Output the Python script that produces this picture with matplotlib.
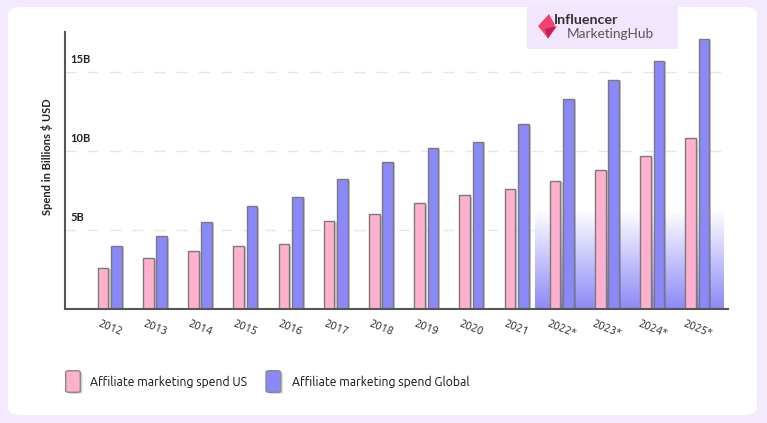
#!/usr/bin/env python3
#
# Affiliate marketing spend, US vs Global (2012 - 2025*)
#
import matplotlib
matplotlib.use('Agg')
import matplotlib.pyplot as plt
import numpy as np
from matplotlib.patches import FancyBboxPatch, Rectangle, Polygon
from matplotlib import patheffects
from matplotlib.colors import LinearSegmentedColormap

# Data (billions USD)
years = ['2012', '2013', '2014', '2015', '2016', '2017', '2018',
         '2019', '2020', '2021', '2022*', '2023*', '2024*', '2025*']
spend_us = [2.6, 3.2, 3.7, 4.0, 4.1, 5.6, 6.0,
            6.7, 7.2, 7.6, 8.1, 8.8, 9.7, 10.8]
spend_global = [4.0, 4.6, 5.5, 6.5, 7.1, 8.2, 9.3,
                10.2, 10.6, 11.7, 13.3, 14.5, 15.7, 17.1]
yticks = [5, 10, 15]
ytick_labels = ['5B', '10B', '15B']
labels = ['Affiliate marketing spend US', 'Affiliate marketing spend Global']

c_us = '#FFB1CE'
c_gl = '#8B88FA'
c_edge = '#7a7a7a'
c_bg = '#F3EBFD'
font = ['Ubuntu', 'Lato']
font_b = 'Lato'

W, H = 767, 423
fig = plt.figure(figsize=(W / 100, H / 100), dpi=100)
fig.patch.set_facecolor(c_bg)

# White card
card = FancyBboxPatch((8 / W, 1 - 415 / H), (757 - 8) / W, (415 - 7) / H,
                      boxstyle='round,pad=0,rounding_size=0.018',
                      transform=fig.transFigure, facecolor='white',
                      edgecolor='none', zorder=-2)
fig.patches.append(card)

ax = fig.add_axes([65 / W, 1 - 309 / H, (727.7 - 65) / W, (309 - 32) / H])
ax.set_facecolor('none')
ax.set_zorder(2)

x = np.arange(len(years))
w = 0.235
off = 0.147

# Forecast gradient behind bars
grad = LinearSegmentedColormap.from_list(
    'g', [(0.55, 0.54, 0.97, 1.0), (0.55, 0.54, 0.97, 0.0)])
ax.imshow(np.linspace(0, 1, 100).reshape(-1, 1), cmap=grad, aspect='auto',
          origin='lower', extent=(9.41, 13.57, 0, 6.3), zorder=0.5)

shadow = [patheffects.SimplePatchShadow(offset=(1.5, -1), alpha=0.25),
          patheffects.Normal()]
b1 = ax.bar(x - off, spend_us, w, color=c_us, edgecolor=c_edge, lw=1,
            zorder=2)
b2 = ax.bar(x + off, spend_global, w, color=c_gl, edgecolor=c_edge, lw=1,
            zorder=2)
for b in list(b1) + list(b2):
    b.set_path_effects(shadow)

ax.set_xlim(-0.99, 13.67)
ax.set_ylim(0, 17.53)

for sp in ('top', 'right'):
    ax.spines[sp].set_visible(False)
for sp in ('left', 'bottom'):
    ax.spines[sp].set_color('#555555')
    ax.spines[sp].set_linewidth(1.5)

# Gridlines with labels sitting above them
for v, lab in zip(yticks, ytick_labels):
    ax.axhline(v, color='#e6e6e6', lw=1, ls=(0, (8, 8)), zorder=1)
    ax.text(0.008, v + 0.45, lab, transform=ax.get_yaxis_transform(),
            fontsize=8, fontweight='bold', family=font_b, color='#222222',
            va='bottom', ha='left')
ax.set_yticks([])

ax.set_xticks(x)
ax.set_xticklabels(years, rotation=-22, ha='center', fontsize=8,
                   family=font, color='#222222')
ax.tick_params(axis='x', length=0, pad=6)

fig.text(46.7 / W, 1 - 157 / H, 'Spend in Billions $ USD', rotation=90,
         ha='center', va='center', fontsize=8, fontweight='bold',
         family=font_b, color='#222222')

# Legend
for (lx, tx), lab, col in zip([(65.7, 90), (266, 292.3)], labels,
                              [c_us, c_gl]):
    p = FancyBboxPatch((lx / W, 1 - 392.3 / H), 14.6 / W, 21.6 / H,
                       boxstyle='round,pad=0,rounding_size=0.004',
                       transform=fig.transFigure, facecolor=col,
                       edgecolor='#8a8a8a', lw=1)
    p.set_path_effects(shadow)
    fig.patches.append(p)
    fig.text(tx / W, 1 - 381.5 / H, lab, ha='left', va='center',
             fontsize=8.8, family=font, color='#111111')

# Logo box
fig.patches.append(Rectangle((527 / W, 1 - 49.5 / H), 150.5 / W, 43 / H,
                             transform=fig.transFigure, facecolor='#F1E6FC',
                             edgecolor='none'))
fig.patches.append(Polygon([(538 / W, 1 - 26 / H), (549 / W, 1 - 14 / H),
                            (555 / W, 1 - 25 / H), (548 / W, 1 - 38.5 / H)],
                           transform=fig.transFigure, facecolor='#F2436F',
                           edgecolor='none'))
fig.patches.append(Polygon([(545 / W, 1 - 29 / H), (557 / W, 1 - 26 / H),
                            (548 / W, 1 - 38.5 / H)],
                           transform=fig.transFigure, facecolor='#C71F52',
                           edgecolor='none'))
fig.text(554 / W, 1 - 19.5 / H, 'Influencer', ha='left', va='center',
         fontsize=10.3, fontweight='bold', family=font_b, color='#333333')
fig.text(567 / W, 1 - 34.5 / H, 'MarketingHub', ha='left', va='center',
         fontsize=9.8, family=font_b, color='#555555')

fig.savefig('out.png', dpi=100, facecolor=fig.get_facecolor())
